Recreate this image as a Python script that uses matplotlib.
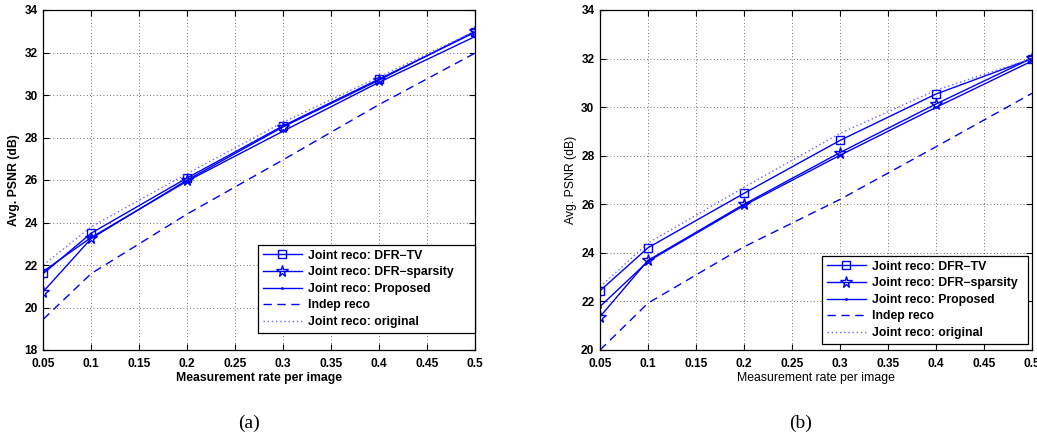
import matplotlib
matplotlib.use("Agg")
import matplotlib.pyplot as plt

# ---- data ----
rates = [0.05, 0.1, 0.2, 0.3, 0.4, 0.5]

# panel (a)
a_tv       = [21.6, 23.5, 26.1, 28.55, 30.75, 32.95]
a_sparsity = [20.75, 23.25, 26.0, 28.5, 30.7, 33.0]
a_proposed = [21.7, 23.3, 25.95, 28.3, 30.6, 32.75]
a_indep    = [19.45, 21.6, 24.4, 26.95, 29.55, 31.97]
a_original = [22.0, 23.8, 26.3, 28.72, 30.85, 33.0]

# panel (b)
b_tv       = [22.44, 24.21, 26.45, 28.63, 30.54, 32.0]
b_sparsity = [21.37, 23.69, 26.0, 28.13, 30.13, 32.02]
b_proposed = [21.79, 23.65, 25.95, 28.02, 29.99, 31.9]
b_indep    = [20.0, 21.93, 24.25, 26.2, 28.37, 30.57]
b_original = [22.6, 24.4, 26.7, 28.92, 30.7, 32.0]

labels = ["Joint reco: DFR\u2212TV", "Joint reco: DFR\u2212sparsity",
          "Joint reco: Proposed", "Indep reco", "Joint reco: original"]
xticks = [0.05, 0.1, 0.15, 0.2, 0.25, 0.3, 0.35, 0.4, 0.45, 0.5]
xticklabels = ["0.05", "0.1", "0.15", "0.2", "0.25", "0.3", "0.35", "0.4", "0.45", "0.5"]
captions = ["(a)", "(b)"]

plt.rcParams['font.family'] = ['Liberation Sans', 'DejaVu Sans']

W, H = 1037, 434
fig = plt.figure(figsize=(W / 100, H / 100), dpi=100)

blue = (0, 0, 1)

def make_panel(rect, tv, sp, pr, ind, orig, ylim, yticks, label_bold, legend_rect, caption, cap_x):
    l, t, r, b = rect
    ax = fig.add_axes([l / W, 1 - b / H, (r - l) / W, (b - t) / H])
    lw = 1.0
    ax.plot(rates, tv, color=blue, lw=lw, marker='s', ms=6, mfc='none', mew=1.0, label=labels[0])
    ax.plot(rates, sp, color=blue, lw=lw, marker='*', ms=8.5, mfc='none', mew=1.0, label=labels[1])
    ax.plot(rates, pr, color=blue, lw=lw, marker='.', ms=2, label=labels[2])
    ax.plot(rates, ind, color=blue, lw=lw, ls=(0, (6, 4)), label=labels[3])
    ax.plot(rates, orig, color=(0.4, 0.4, 1.0), lw=lw, ls=(0, (1, 2)), label=labels[4])
    ax.set_xlim(0.05, 0.5)
    ax.set_ylim(*ylim)
    ax.set_xticks(xticks)
    ax.set_xticklabels(xticklabels)
    ax.set_yticks(yticks)
    ax.set_yticklabels([str(v) for v in yticks])
    for lab in ax.get_xticklabels() + ax.get_yticklabels():
        lab.set_fontweight('bold')
        lab.set_fontsize(8.6)
    ax.tick_params(direction='in', length=4, width=0.8, top=True, right=True)
    ax.tick_params(axis='x', pad=6)
    ax.tick_params(axis='y', pad=4)
    ax.grid(True, color='0.25', ls=(0, (1, 3)), lw=0.6)
    for s in ax.spines.values():
        s.set_linewidth(0.9)
    fw = 'bold' if label_bold else 'normal'
    ax.set_xlabel("Measurement rate per image", fontsize=8.8, fontweight=fw, labelpad=1)
    ax.set_ylabel("Avg. PSNR (dB)", fontsize=8.8, fontweight=fw, labelpad=3)
    ll, lt, lr, lb = legend_rect
    leg = ax.legend(loc='lower left',
                    bbox_to_anchor=((ll - l) / (r - l), (b - lb) / (b - t), (lr - ll) / (r - l), (lb - lt) / (b - t)),
                    mode='expand', fancybox=False, framealpha=1, edgecolor='black',
                    prop={'size': 8.8, 'weight': 'bold'}, handlelength=3.2, borderpad=0.4,
                    labelspacing=0.38, handletextpad=0.5, borderaxespad=0)
    leg.get_frame().set_linewidth(0.9)
    fig.text(cap_x / W, 1 - 423 / H, caption, ha='center', va='center',
             fontsize=14, family='Liberation Serif')
    return ax

make_panel((43.3, 10, 475, 350), a_tv, a_sparsity, a_proposed, a_indep, a_original,
           (18, 34), list(range(18, 35, 2)), True, (258, 246, 475, 333), captions[0], 249)
make_panel((600, 10, 1032, 350), b_tv, b_sparsity, b_proposed, b_indep, b_original,
           (20, 34), list(range(20, 35, 2)), False, (822, 257, 1028, 344), captions[1], 801)

fig.savefig("out.png", dpi=100)
